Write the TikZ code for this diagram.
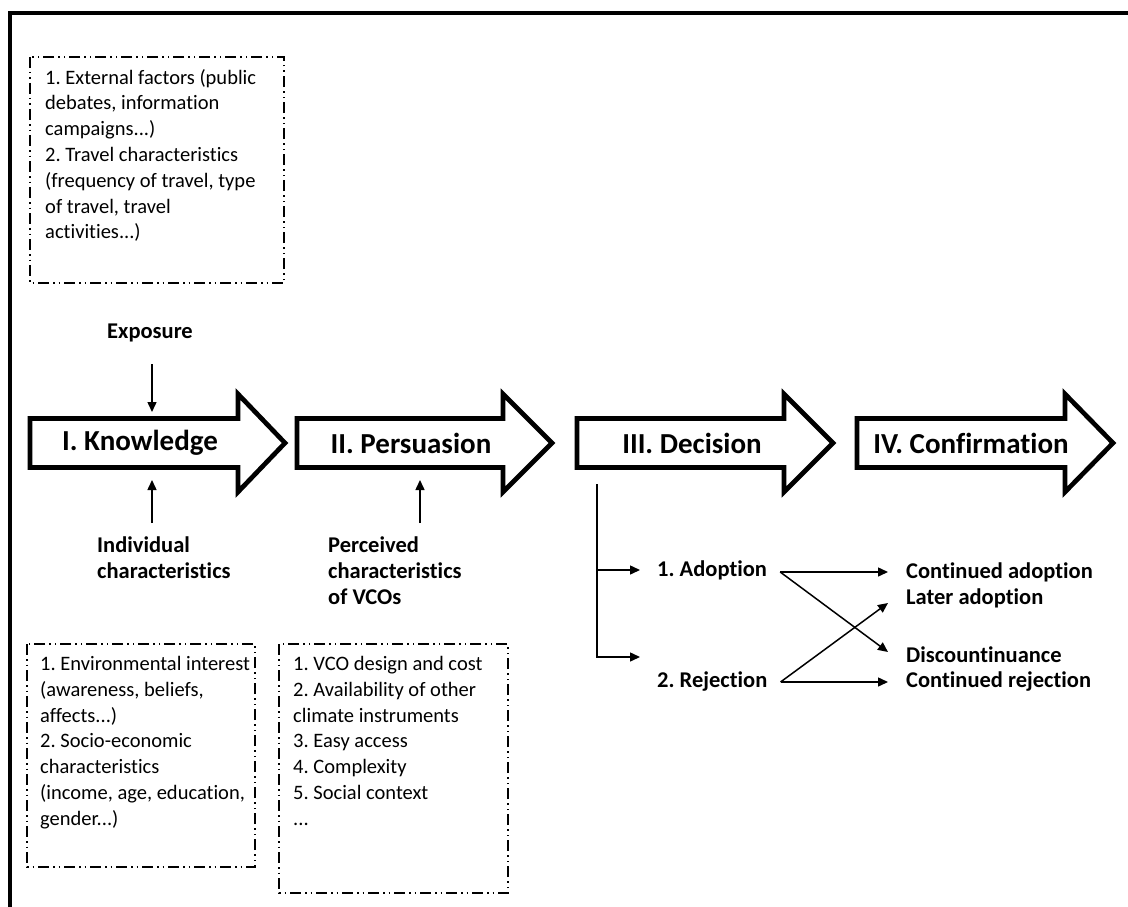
\documentclass[tikz,border=0pt]{standalone}
\usepackage{fontspec}
\setmainfont{Carlito}[Ligatures=NoCommon]
\usetikzlibrary{arrows.meta}
\frenchspacing
\begin{document}
\frenchspacing
\begin{tikzpicture}[x=1pt,y=-1pt,
  blockarrow/.style={draw=black, line width=4.7pt, fill=white, line join=miter},
  boxdash/.style={draw=black, line width=1.4pt, dash pattern=on 11pt off 4pt on 1.5pt off 4pt on 1.5pt off 4pt},
  boxtext/.style={anchor=north west, inner sep=0pt, align=left, font=\fontsize{20.5}{25.8}\selectfont},
  lbl/.style={inner sep=0pt, font=\bfseries\fontsize{22.5}{26}\selectfont},
  stage/.style={inner sep=0pt, font=\bfseries\fontsize{29}{33}\selectfont},
  thinarrow/.style={line width=1.5pt, -{Triangle[length=10pt,width=9pt]}},
]
\useasboundingbox (0,0) rectangle (1128,907);
\clip (0,0) rectangle (1128,907);
% outer frame (only top and left edges visible)
\draw[line width=4pt] (10,930) -- (10,13) -- (1150,13);

% dashed boxes
\draw[boxdash] (30,57) rectangle (284,283);
\draw[boxdash] (27,644) rectangle (255,867);
\draw[boxdash] (279,644) rectangle (508,893);

\node[boxtext] (extf) at (45,69) {1. External factors (public\\debates, information\\campaigns...)\\2. Travel characteristics\\(frequency of travel, type\\of travel, travel\\activities...)};
\node[boxtext] (indf) at (40,656) {1. Environmental interest\\(awareness, beliefs,\\affects...)\\2. Socio-economic\\characteristics\\(income, age, education,\\gender...)};
\node[boxtext] (vcof) at (293,656) {1. VCO design and cost\\2. Availability of other\\climate instruments\\3. Easy access\\4. Complexity\\5. Social context\\...};

% block arrows
\newcommand\stagearrow[3]{\draw[blockarrow] (#1,418.5) -- (#2,418.5) -- (#2,394) -- (#3,443) -- (#2,492) -- (#2,467.5) -- (#1,467.5) -- cycle;}
\stagearrow{30}{238}{285}
\stagearrow{297}{503}{552}
\stagearrow{577}{784}{833}
\stagearrow{857}{1065}{1113}

\node[stage] (know) at (140,443) {I. Knowledge};
\node[stage] (pers) at (411,443) {II. Persuasion};
\node[stage] (deci) at (692,443) {III. Decision};
\node[stage] (conf) at (971,443) {IV. Confirmation};

% influences
\node[lbl] (expo) at (150,333) {Exposure};
\coordinate (knowTop) at (152,412);
\coordinate (knowBot) at (152,480);
\coordinate (persBot) at (420,480);
\draw[thinarrow, shorten <=22pt] (expo.south -| knowTop) -- (knowTop);

\node[lbl, anchor=north west, align=left] (indiv) at (97,537) {Individual\\characteristics};
\node[lbl, anchor=north west, align=left] (perc) at (328,537) {Perceived\\characteristics\\of VCOs};
\draw[thinarrow, shorten <=14pt] (indiv.north -| knowBot) -- (knowBot);
\draw[thinarrow, shorten <=14pt] (perc.north -| persBot) -- (persBot);

% decision outcomes
\node[lbl, anchor=west] (adopt) at (657,570) {1. Adoption};
\node[lbl, anchor=west] (reje) at (657,682) {2. Rejection};
\coordinate (decBot) at (597,484);
\coordinate (adCorner) at (597,570);
\coordinate (rejIn) at (640,657);
\draw[thinarrow] (decBot) |- (rejIn);
\draw[thinarrow, shorten >=17pt] (adCorner) -- (adopt.west);

\node[lbl, anchor=west] (cadopt) at (906,572) {Continued adoption};
\node[lbl, anchor=west] (ladopt) at (906,598) {Later adoption};
\node[lbl, anchor=west] (disc) at (906,655) {Discountinuance};
\node[lbl, anchor=west] (crej) at (906,682) {Continued rejection};

\draw[thinarrow] ([xshift=13pt,yshift=-2pt]adopt.east) -- ([xshift=-18pt]cadopt.west);
\draw[thinarrow] ([xshift=13pt,yshift=-2pt]adopt.east) -- ([xshift=-18pt,yshift=3pt]disc.west);
\draw[thinarrow] ([xshift=13pt]reje.east) -- ([xshift=-18pt]crej.west);
\draw[thinarrow] ([xshift=13pt]reje.east) -- ([xshift=-18pt,yshift=-5pt]ladopt.west);
\end{tikzpicture}
\end{document}
